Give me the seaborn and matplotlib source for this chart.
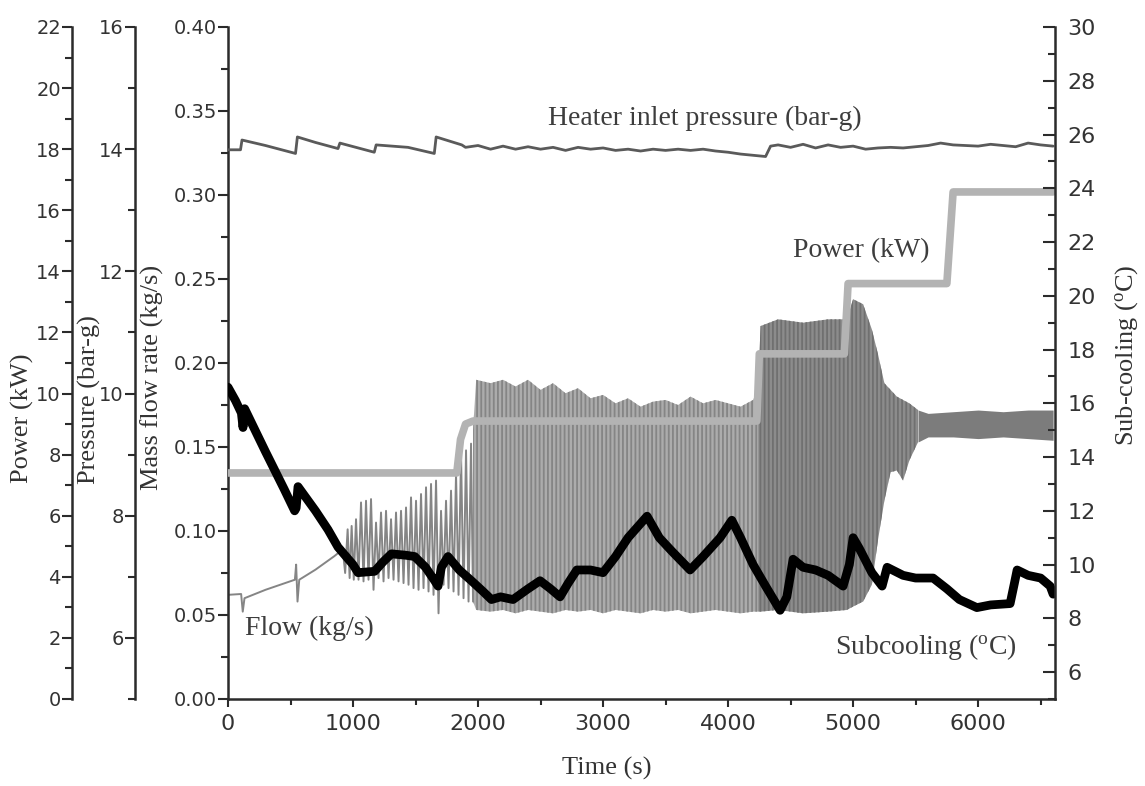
import numpy as np
import matplotlib
matplotlib.use("Agg")
import matplotlib.pyplot as plt
import seaborn as sns
from matplotlib.ticker import MultipleLocator, FormatStrFormatter

# ---------------- data ----------------
# flow, single trace (before and at the start of the oscillations), kg/s
flow_time = [0, 105, 118, 132, 300, 535, 545, 556, 570, 700, 850, 900,
             917, 937, 957, 973, 989, 1006, 1024, 1044, 1064, 1084, 1104, 1124,
             1144, 1164, 1184, 1204, 1224, 1244, 1264, 1284, 1304, 1324, 1344,
             1364, 1384, 1404, 1424, 1444, 1464, 1484, 1504, 1524, 1544, 1564,
             1584, 1604, 1624, 1644, 1664, 1684, 1704, 1724, 1744, 1764, 1784,
             1804, 1824, 1844, 1864, 1884, 1904, 1924, 1944, 1960]
flow_value = [0.062, 0.0625, 0.052, 0.060, 0.065, 0.071, 0.080, 0.058, 0.071, 0.077, 0.085, 0.088,
              0.090, 0.075, 0.101, 0.072, 0.103, 0.071, 0.107, 0.071, 0.117, 0.070, 0.118, 0.071,
              0.119, 0.065, 0.105, 0.072, 0.111, 0.070, 0.112, 0.072, 0.107, 0.071, 0.111,
              0.070, 0.112, 0.069, 0.114, 0.068, 0.120, 0.066, 0.118, 0.065, 0.122, 0.066,
              0.126, 0.064, 0.128, 0.062, 0.130, 0.051, 0.112, 0.068, 0.118, 0.066, 0.124,
              0.064, 0.134, 0.062, 0.146, 0.060, 0.148, 0.058, 0.152, 0.058]

# flow, envelope of the dense oscillations, kg/s
band_time = [1960, 1985, 2100, 2200, 2300, 2400, 2500, 2600, 2700, 2800,
             2900, 3000, 3100, 3200, 3300, 3400, 3500, 3600, 3700, 3800,
             3900, 4000, 4100, 4200, 4240, 4260, 4400, 4600, 4800, 4950,
             5000, 5080, 5150, 5200, 5250, 5300, 5350, 5400, 5450, 5520,
             5600, 5800, 6000, 6200, 6400, 6600]
band_upper = [0.160, 0.190, 0.188, 0.190, 0.186, 0.190, 0.184, 0.188, 0.182, 0.185,
              0.179, 0.181, 0.176, 0.179, 0.174, 0.177, 0.178, 0.175, 0.180, 0.176,
              0.178, 0.176, 0.174, 0.178, 0.185, 0.222, 0.226, 0.224, 0.226, 0.226,
              0.238, 0.235, 0.220, 0.205, 0.188, 0.184, 0.180, 0.178, 0.176, 0.172,
              0.170, 0.171, 0.172, 0.171, 0.172, 0.172]
band_lower = [0.058, 0.053, 0.052, 0.053, 0.051, 0.053, 0.052, 0.051, 0.053, 0.052,
              0.053, 0.051, 0.053, 0.052, 0.051, 0.053, 0.052, 0.053, 0.051, 0.052,
              0.053, 0.052, 0.051, 0.052, 0.052, 0.052, 0.053, 0.051, 0.052, 0.053,
              0.055, 0.058, 0.068, 0.095, 0.118, 0.135, 0.136, 0.130, 0.142, 0.153,
              0.156, 0.156, 0.155, 0.156, 0.155, 0.154]

# heater power, kW
power_time = [0, 1830, 1860, 1900, 1960, 4230, 4250, 4930, 4960, 5750, 5800, 6600]
power_kw = [7.4, 7.4, 8.5, 9.0, 9.1, 9.1, 11.3, 11.3, 13.6, 13.6, 16.6, 16.6]

# heater inlet pressure, bar-g
pressure_time = [0, 100, 112, 300, 540, 555, 700, 880, 895, 1170, 1185, 1440, 1650,
                 1665, 1870, 1900, 2000, 2100, 2200, 2300, 2400, 2500, 2600, 2700,
                 2800, 2900, 3000, 3100, 3200, 3300, 3400, 3500, 3600, 3700, 3800,
                 3900, 4000, 4100, 4200, 4300, 4340, 4400, 4500, 4600, 4700, 4800,
                 4900, 5000, 5100, 5200, 5300, 5400, 5500, 5600, 5700, 5800, 5900,
                 6000, 6100, 6200, 6300, 6400, 6500, 6600]
pressure_barg = [13.99, 13.99, 14.15, 14.06, 13.93, 14.20, 14.11, 14.01, 14.10, 13.95, 14.07, 14.03, 13.93,
                 14.20, 14.07, 14.03, 14.06, 14.00, 14.05, 14.00, 14.04, 14.00, 14.03, 13.98,
                 14.03, 14.00, 14.02, 13.98, 14.00, 13.97, 14.00, 13.98, 14.00, 13.98, 14.00,
                 13.97, 13.95, 13.92, 13.90, 13.88, 14.05, 14.07, 14.03, 14.08, 14.02, 14.07,
                 14.03, 14.05, 14.00, 14.02, 14.03, 14.02, 14.04, 14.06, 14.10, 14.07, 14.06,
                 14.05, 14.08, 14.06, 14.04, 14.10, 14.07, 14.05]

# sub-cooling, deg C
subcool_time = [0, 60, 107, 120, 133, 300, 450, 533, 545, 560, 700, 800, 880, 1000, 1040,
                1173, 1240, 1307, 1420, 1493, 1580, 1653, 1680, 1707, 1760, 1850, 1947,
                2040, 2107, 2180, 2280, 2400, 2496, 2580, 2656, 2720, 2790, 2900, 3000,
                3100, 3200, 3352, 3450, 3550, 3696, 3800, 3936, 4030, 4100, 4200, 4300,
                4416, 4470, 4520, 4600, 4700, 4800, 4920, 4970, 5000, 5050, 5150, 5232,
                5272, 5400, 5500, 5640, 5750, 5850, 5990, 6100, 6256, 6290, 6312, 6400,
                6500, 6576, 6600]
subcool_c = [16.6, 16.1, 15.64, 15.1, 15.8, 14.2, 12.8, 12.0, 12.1, 12.9, 12.0, 11.3, 10.65, 10.0, 9.7,
             9.75, 10.1, 10.4, 10.35, 10.3, 9.9, 9.4, 9.2, 9.9, 10.3, 9.8, 9.4,
             9.0, 8.7, 8.8, 8.7, 9.1, 9.4, 9.1, 8.8, 9.3, 9.8, 9.8, 9.7,
             10.3, 11.0, 11.8, 11.0, 10.5, 9.8, 10.3, 11.0, 11.65, 11.0, 10.0, 9.2,
             8.3, 8.8, 10.2, 9.9, 9.8, 9.6, 9.2, 10.0, 11.0, 10.6, 9.7, 9.2,
             9.9, 9.6, 9.5, 9.5, 9.1, 8.7, 8.4, 8.5, 8.55, 9.3, 9.8, 9.6,
             9.5, 9.2, 8.9]

# ---------------- style ----------------
sns.set_style("ticks")
plt.rcParams["font.family"] = ["DejaVu Sans"]
plt.rcParams["mathtext.fontset"] = "custom"
plt.rcParams["mathtext.rm"] = "Liberation Serif"
plt.rcParams["mathtext.it"] = "Liberation Serif:italic"
plt.rcParams["hatch.linewidth"] = 1.3

SPINE = "#2b2b2b"
TXT = "#333333"
SERIF = "Liberation Serif"

fig = plt.figure(figsize=(11.45, 7.86), dpi=100)
fig.patch.set_facecolor("white")
ax = fig.add_axes([228 / 1145, 1 - 699 / 786, 827 / 1145, 672 / 786])
ax_pw = ax.twinx()
ax_pr = ax.twinx()
ax_sc = ax.twinx()

# ---------------- flow (main axis) ----------------
bt = np.array(band_time)
bu = np.array(band_upper)
bl = np.array(band_lower)
seg1 = (bt <= 4240)
seg2 = (bt >= 4240) & (bt <= 5520)
seg3 = (bt >= 5520)
ax.fill_between(bt[seg1], bl[seg1], bu[seg1], facecolor="#acacac",
                edgecolor="#858585", hatch="||||", linewidth=0)
ax.fill_between(bt[seg2], bl[seg2], bu[seg2], facecolor="#8c8c8c",
                edgecolor="#707070", hatch="||||", linewidth=0)
ax.fill_between(bt[seg3], bl[seg3], bu[seg3], facecolor="#7c7c7c",
                edgecolor="#7c7c7c", linewidth=0)
sns.lineplot(x=flow_time, y=flow_value, ax=ax, color="#858585", lw=1.4,
             sort=False, estimator=None)

ax.set_xlim(0, 6615)
ax.set_ylim(0, 0.40)
ax.xaxis.set_major_locator(MultipleLocator(1000))
ax.xaxis.set_minor_locator(MultipleLocator(500))
ax.yaxis.set_major_locator(MultipleLocator(0.05))
ax.yaxis.set_minor_locator(MultipleLocator(0.025))
ax.yaxis.set_major_formatter(FormatStrFormatter("%.2f"))

# ---------------- power ----------------
sns.lineplot(x=power_time, y=power_kw, ax=ax_pw, color="#b3b3b3", lw=5.5,
             sort=False, estimator=None)
ax_pw.set_ylim(0, 22)
ax_pw.yaxis.set_major_locator(MultipleLocator(2))
ax_pw.yaxis.set_minor_locator(MultipleLocator(1))

# ---------------- pressure ----------------
sns.lineplot(x=pressure_time, y=pressure_barg, ax=ax_pr, color="#5a5a5a", lw=2.0,
             sort=False, estimator=None)
ax_pr.set_ylim(5, 16)
ax_pr.yaxis.set_major_locator(MultipleLocator(2))
ax_pr.yaxis.set_minor_locator(MultipleLocator(1))

# ---------------- sub-cooling ----------------
sns.lineplot(x=subcool_time, y=subcool_c, ax=ax_sc, color="black", lw=6.3,
             sort=False, estimator=None)
ax_sc.set_ylim(5, 30)
ax_sc.yaxis.set_major_locator(MultipleLocator(2))
ax_sc.yaxis.set_minor_locator(MultipleLocator(1))

for a in (ax_pw, ax_pr, ax_sc):
    a.set_xlim(0, 6615)

# ---------------- spines & ticks ----------------
for a in (ax, ax_pw, ax_pr, ax_sc):
    for s in a.spines.values():
        s.set_visible(False)
        s.set_color(SPINE)
        s.set_linewidth(1.8)

ax.spines["left"].set_visible(True)
ax.spines["bottom"].set_visible(True)
ax.tick_params(axis="y", which="major", direction="out", length=7, width=1.5,
               labelsize=14, labelcolor=TXT, color=SPINE, pad=1)
ax.tick_params(axis="y", which="minor", direction="out", length=5, width=1.5, color=SPINE)
ax.tick_params(axis="x", which="major", direction="out", length=6, width=1.5,
               labelsize=16, labelcolor=TXT, color=SPINE, pad=5)
ax.tick_params(axis="x", which="minor", direction="out", length=4, width=1.5, color=SPINE)

for a, off in ((ax_pw, 112.3), (ax_pr, 67.0)):
    a.spines["left"].set_visible(True)
    a.spines["left"].set_position(("outward", off))
    a.yaxis.set_ticks_position("left")
    a.yaxis.set_label_position("left")
    a.tick_params(axis="y", which="major", direction="out", length=7, width=1.5,
                  labelsize=14, labelcolor=TXT, color=SPINE, pad=1)
    a.tick_params(axis="y", which="minor", direction="out", length=5, width=1.5, color=SPINE)
    a.tick_params(axis="x", which="both", bottom=False, top=False,
                  labelbottom=False, labeltop=False)

ax_sc.spines["right"].set_visible(True)
ax_sc.tick_params(axis="y", which="major", direction="in", length=9, width=1.5,
                  labelsize=16, labelcolor=TXT, color=SPINE, pad=9)
ax_sc.tick_params(axis="y", which="minor", direction="in", length=5, width=1.5, color=SPINE)
ax_sc.tick_params(axis="x", which="both", bottom=False, top=False,
                  labelbottom=False, labeltop=False)

# ---------------- labels ----------------
lab = dict(fontfamily=SERIF, fontsize=19, color=TXT)
ax.set_xlabel("Time (s)", **lab)
ax.set_ylabel("Mass flow rate (kg/s)", **lab)
ax_pw.set_ylabel("Power (kW)", **lab)
ax_pr.set_ylabel("Pressure (bar-g)", **lab)
ax_sc.set_ylabel("Sub-cooling ($^{\\rm o}$C)", rotation=90, **lab)

ax.xaxis.set_label_coords(0.458, -0.104)
ax.yaxis.set_label_coords(-0.0919, 0.479)
ax_pw.yaxis.set_label_coords(-0.249, 0.418)
ax_pr.yaxis.set_label_coords(-0.168, 0.445)
ax_sc.yaxis.set_label_coords(1.087, 0.512)
for a in (ax, ax_pw, ax_pr, ax_sc):
    a.yaxis.label.set_verticalalignment("center")
ax.xaxis.label.set_verticalalignment("center")

# ---------------- annotations ----------------
ann = dict(fontfamily=SERIF, fontsize=20, color="#3d3d3d", va="center", ha="left",
           transform=ax.transData)
ax_sc.text(2560, 0.3458, "Heater inlet pressure (bar-g)", **ann)
ax_sc.text(4520, 0.267, "Power (kW)", **ann)
ax_sc.text(136, 0.0423, "Flow (kg/s)", **ann)
ax_sc.text(4856, 0.031, "Subcooling ($^{\\rm o}$C)", **ann)

fig.savefig("out.png", dpi=100)
